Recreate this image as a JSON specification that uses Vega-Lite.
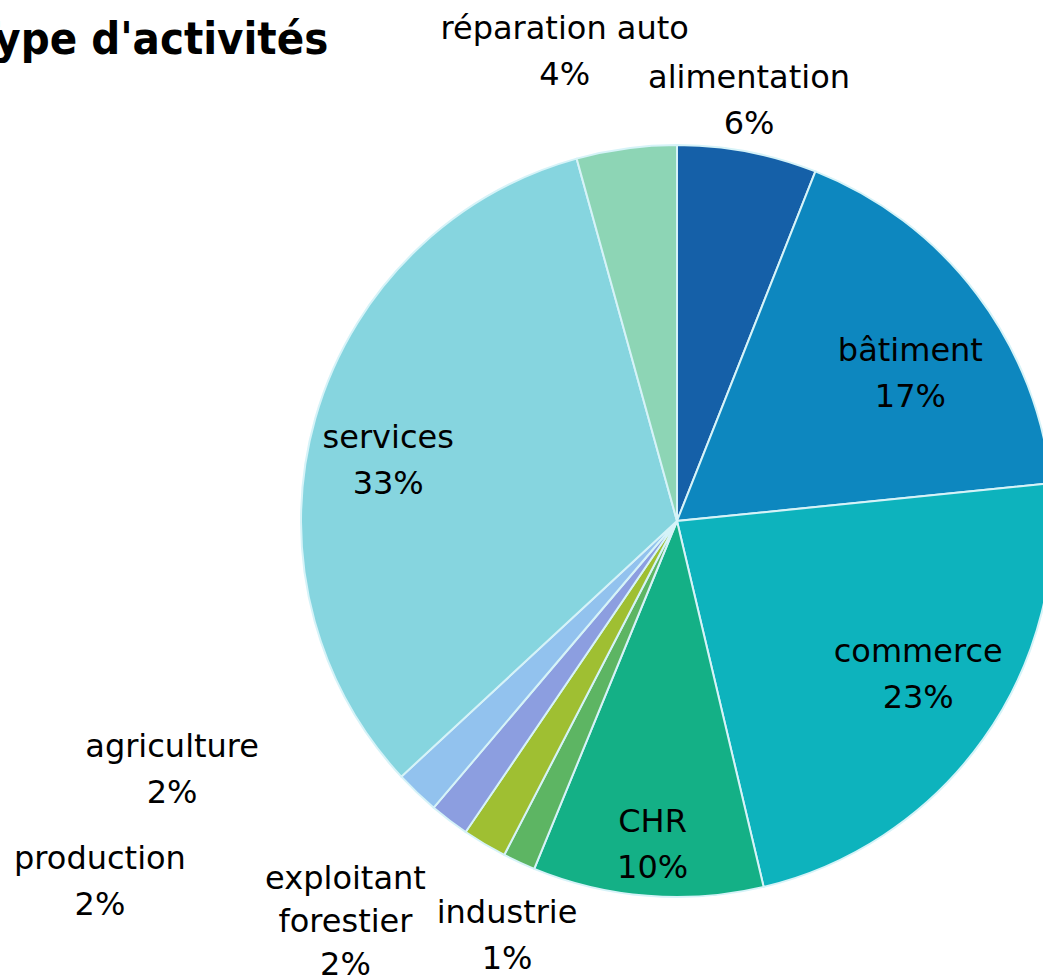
{
  "$schema": "https://vega.github.io/schema/vega-lite/v6.json",
  "width": 732,
  "height": 732,
  "autosize": {"type": "none"},
  "padding": {"left": 311, "top": 155, "right": 0, "bottom": 92},
  "background": "white",
  "config": {"view": {"stroke": null}, "text": {"font": "DejaVu Sans"}},
  "title": {
    "text": "Type d'activités",
    "anchor": "start",
    "frame": "group",
    "orient": "top",
    "font": "DejaVu Sans Condensed, DejaVu Sans",
    "fontSize": 45,
    "fontWeight": "bold",
    "color": "black",
    "baseline": "alphabetic",
    "offset": 0,
    "dy": 257,
    "dx": -339
  },
  "data": {
    "values": [
      {"cat": "alimentation", "name": "alimentation", "value": 6.0, "ord": 1},
      {"cat": "bâtiment", "name": "bâtiment", "value": 17.4, "ord": 2},
      {"cat": "commerce", "name": "commerce", "value": 22.9, "ord": 3},
      {"cat": "CHR", "name": "CHR", "value": 9.9, "ord": 4},
      {"cat": "industrie", "name": "industrie", "value": 1.4, "ord": 5},
      {"cat": "exploitant forestier", "name": "exploitant\nforestier", "value": 1.9, "ord": 6},
      {"cat": "production", "name": "production", "value": 1.7, "ord": 7},
      {"cat": "agriculture", "name": "agriculture", "value": 1.9, "ord": 8},
      {"cat": "services", "name": "services", "value": 32.6, "ord": 9},
      {"cat": "réparation auto", "name": "réparation auto", "value": 4.3, "ord": 10}
    ]
  },
  "transform": [
    {"calculate": "datum.name + '\\n' + format(datum.value, '.0f') + '%'", "as": "lbl"}
  ],
  "encoding": {
    "theta": {"field": "value", "type": "quantitative", "stack": true, "scale": {"domain": [0, 100]}},
    "order": {"field": "ord", "type": "quantitative"}
  },
  "layer": [
    {
      "mark": {"type": "arc", "outerRadius": 376, "stroke": "#d6f3f8", "strokeWidth": 2},
      "encoding": {
        "color": {
          "field": "cat",
          "type": "nominal",
          "legend": null,
          "scale": {
            "domain": ["alimentation", "bâtiment", "commerce", "CHR", "industrie", "exploitant forestier", "production", "agriculture", "services", "réparation auto"],
            "range": ["#1560a8", "#0d87bf", "#0db3bd", "#14b086", "#5db563", "#9fbf32", "#8c9ee0", "#92c2ee", "#86d5df", "#8dd5b5"]
          }
        }
      }
    },
    {
      "mark": {"type": "text", "radius": 427, "dx": -8, "dy": -24, "fontSize": 32, "lineBreak": "\n", "lineHeight": 46, "baseline": "middle", "align": "center", "color": "black"},
      "encoding": {"text": {"condition": {"test": "datum.cat === 'alimentation'", "field": "lbl"}, "value": ""}}
    },
    {
      "mark": {"type": "text", "radius": 280, "dx": 10, "dy": -1, "fontSize": 32, "lineBreak": "\n", "lineHeight": 46, "baseline": "middle", "align": "center", "color": "black"},
      "encoding": {"text": {"condition": {"test": "datum.cat === 'bâtiment'", "field": "lbl"}, "value": ""}}
    },
    {
      "mark": {"type": "text", "radius": 290, "dx": 5, "dy": -37, "fontSize": 32, "lineBreak": "\n", "lineHeight": 46, "baseline": "middle", "align": "center", "color": "black"},
      "encoding": {"text": {"condition": {"test": "datum.cat === 'commerce'", "field": "lbl"}, "value": ""}}
    },
    {
      "mark": {"type": "text", "radius": 324, "dx": 1, "dy": -22, "fontSize": 32, "lineBreak": "\n", "lineHeight": 46, "baseline": "middle", "align": "center", "color": "black"},
      "encoding": {"text": {"condition": {"test": "datum.cat === 'CHR'", "field": "lbl"}, "value": ""}}
    },
    {
      "mark": {"type": "text", "radius": 445, "dx": 17, "dy": -12, "fontSize": 32, "lineBreak": "\n", "lineHeight": 46, "baseline": "middle", "align": "center", "color": "black"},
      "encoding": {"text": {"condition": {"test": "datum.cat === 'industrie'", "field": "lbl"}, "value": ""}}
    },
    {
      "mark": {"type": "text", "radius": 470, "dx": -91, "dy": -46, "fontSize": 32, "lineBreak": "\n", "lineHeight": 43, "baseline": "middle", "align": "center", "color": "black"},
      "encoding": {"text": {"condition": {"test": "datum.cat === 'exploitant forestier'", "field": "lbl"}, "value": ""}}
    },
    {
      "mark": {"type": "text", "radius": 560, "dx": -238, "dy": -108, "fontSize": 32, "lineBreak": "\n", "lineHeight": 46, "baseline": "middle", "align": "center", "color": "black"},
      "encoding": {"text": {"condition": {"test": "datum.cat === 'production'", "field": "lbl"}, "value": ""}}
    },
    {
      "mark": {"type": "text", "radius": 480, "dx": -173, "dy": -121, "fontSize": 32, "lineBreak": "\n", "lineHeight": 46, "baseline": "middle", "align": "center", "color": "black"},
      "encoding": {"text": {"condition": {"test": "datum.cat === 'agriculture'", "field": "lbl"}, "value": ""}}
    },
    {
      "mark": {"type": "text", "radius": 295, "dx": -5, "dy": -2, "fontSize": 32, "lineBreak": "\n", "lineHeight": 46, "baseline": "middle", "align": "center", "color": "black"},
      "encoding": {"text": {"condition": {"test": "datum.cat === 'services'", "field": "lbl"}, "value": ""}}
    },
    {
      "mark": {"type": "text", "radius": 470, "dx": -49, "dy": -26, "fontSize": 32, "lineBreak": "\n", "lineHeight": 46, "baseline": "middle", "align": "center", "color": "black"},
      "encoding": {"text": {"condition": {"test": "datum.cat === 'réparation auto'", "field": "lbl"}, "value": ""}}
    }
  ]
}
